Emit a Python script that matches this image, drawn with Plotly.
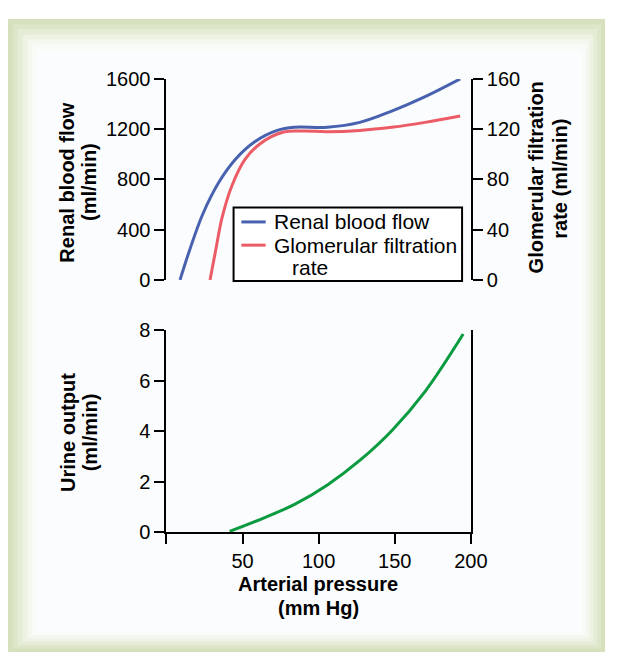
import plotly.graph_objects as go

# pressão arterial (mm Hg) e curvas
p_rbf = [8.9, 15.3, 23.8, 34.5, 45.2, 58, 72.8, 84, 105.6, 127, 148, 170, 193]
rbf = [0, 241, 523, 779, 959, 1100, 1190, 1215, 1215, 1254, 1344, 1459, 1600]

p_gfr = [28.6, 32.4, 36.6, 43, 51.6, 62.2, 77, 90, 105.6, 127, 148, 170, 193]
gfr = [0, 24, 50, 75, 96, 109, 117.7, 118.5, 118, 119, 121.5, 125.4, 130.5]

p_urina = [41.5, 63, 84.5, 106, 127, 148.5, 170, 195]
urina = [0.03, 0.54, 1.11, 1.88, 2.84, 4.05, 5.58, 7.85]

x_ticks = [0, 50, 100, 150, 200]
x_labels = ["", "50", "100", "150", "200"]

nomes = ["Renal blood flow", "Glomerular filtration", "rate"]
cores = ["#4862b0", "#ec5c66", "#0a9a3f"]

# a página tem 8px de margem no body, então a figura fica menor
W, H = 614, 655
OFF = 8
FONT = "Arial, Liberation Sans, sans-serif"


def px_x(v):
    return (v - OFF) / W


def px_y(v):
    return 1 - (v - OFF) / H


fig = go.Figure()

fig.add_trace(go.Scatter(x=p_rbf, y=rbf, mode="lines", name=nomes[0], showlegend=False,
                         line=dict(color=cores[0], width=3, shape="spline"),
                         xaxis="x", yaxis="y"))
fig.add_trace(go.Scatter(x=p_gfr, y=gfr, mode="lines", name=nomes[1], showlegend=False,
                         line=dict(color=cores[1], width=3, shape="spline"),
                         xaxis="x", yaxis="y2"))
fig.add_trace(go.Scatter(x=p_urina, y=urina, mode="lines", showlegend=False,
                         line=dict(color=cores[2], width=3, shape="spline"),
                         xaxis="x2", yaxis="y3"))

eixo = dict(showline=True, linecolor="black", linewidth=2, ticks="outside",
            ticklen=10, tickwidth=2, tickcolor="black", showgrid=False,
            zeroline=False, tickfont=dict(family=FONT, size=20, color="black"))

dom_x = [px_x(171), px_x(484)]

# moldura com degradê verde
frame_cols = ["#d6e0bc", "#dde6c8", "#e5ecd5", "#edf2e3", "#f4f7ef", "#f9fbf8", "#fbfcfd"]
shapes = []
n = len(frame_cols)
for i, c in enumerate(frame_cols):
    f = i / (n - 1)
    x0 = 8 + f * 30
    y0 = 8 + f * 32
    x1 = 622 - f * 24
    y1 = 663 - f * 21
    shapes.append(dict(type="rect", xref="paper", yref="paper", layer="below",
                       x0=px_x(x0), x1=px_x(x1), y0=px_y(y1), y1=px_y(y0),
                       fillcolor=c, line=dict(width=0)))

# legenda desenhada à mão (caixa, amostras de linha e textos)
shapes.append(dict(type="rect", xref="paper", yref="paper",
                   x0=px_x(240), x1=px_x(475), y0=px_y(279), y1=px_y(203),
                   fillcolor="white", line=dict(color="black", width=2)))
for c, yy in [(cores[0], 218), (cores[1], 242)]:
    shapes.append(dict(type="line", xref="paper", yref="paper",
                       x0=px_x(248), x1=px_x(273), y0=px_y(yy), y1=px_y(yy),
                       line=dict(color=c, width=3)))

anot = []
def texto(t, x, y, ang=0, bold=True, xanchor="center", size=20):
    anot.append(dict(text=("<b>" + t + "</b>") if bold else t, x=px_x(x), y=px_y(y),
                     xref="paper", yref="paper", showarrow=False, textangle=ang,
                     xanchor=xanchor, yanchor="middle",
                     font=dict(family=FONT, size=size, color="black")))

texto("Renal blood flow", 69, 177, -90)
texto("(ml/min)", 92, 177, -90)
texto("Glomerular filtration", 552, 172, -90)
texto("rate (ml/min)", 576, 173, -90)
texto("Urine output", 69, 436, -90)
texto("(ml/min)", 92, 436, -90)
texto("Arterial pressure", 327, 593)
texto("(mm Hg)", 327, 617)

texto(nomes[0], 280, 218, bold=False, xanchor="left", size=21)
texto(nomes[1], 280, 242, bold=False, xanchor="left", size=21)
texto(nomes[2], 298, 265, bold=False, xanchor="left", size=21)

fig.update_layout(
    width=W, height=H,
    margin=dict(l=0, r=0, t=0, b=0),
    paper_bgcolor="white", plot_bgcolor="rgba(0,0,0,0)",
    font=dict(family=FONT, size=20, color="black"),
    showlegend=False,
    xaxis=dict(domain=dom_x, range=[0, 200], visible=False, anchor="y"),
    yaxis=dict(eixo, domain=[px_y(278), px_y(70)], range=[0, 1600],
               tickvals=[0, 400, 800, 1200, 1600], anchor="x"),
    yaxis2=dict(eixo, overlaying="y", side="right", range=[0, 160],
                tickvals=[0, 40, 80, 120, 160], anchor="x"),
    xaxis2=dict(eixo, domain=dom_x, range=[0, 200], tickvals=x_ticks,
                ticktext=x_labels, anchor="y3"),
    yaxis3=dict(eixo, domain=[px_y(539), px_y(330)], range=[0, 8],
                tickvals=[0, 2, 4, 6, 8], mirror=True, anchor="x2"),
    shapes=shapes,
    annotations=anot,
)

fig.write_html("out.html")
